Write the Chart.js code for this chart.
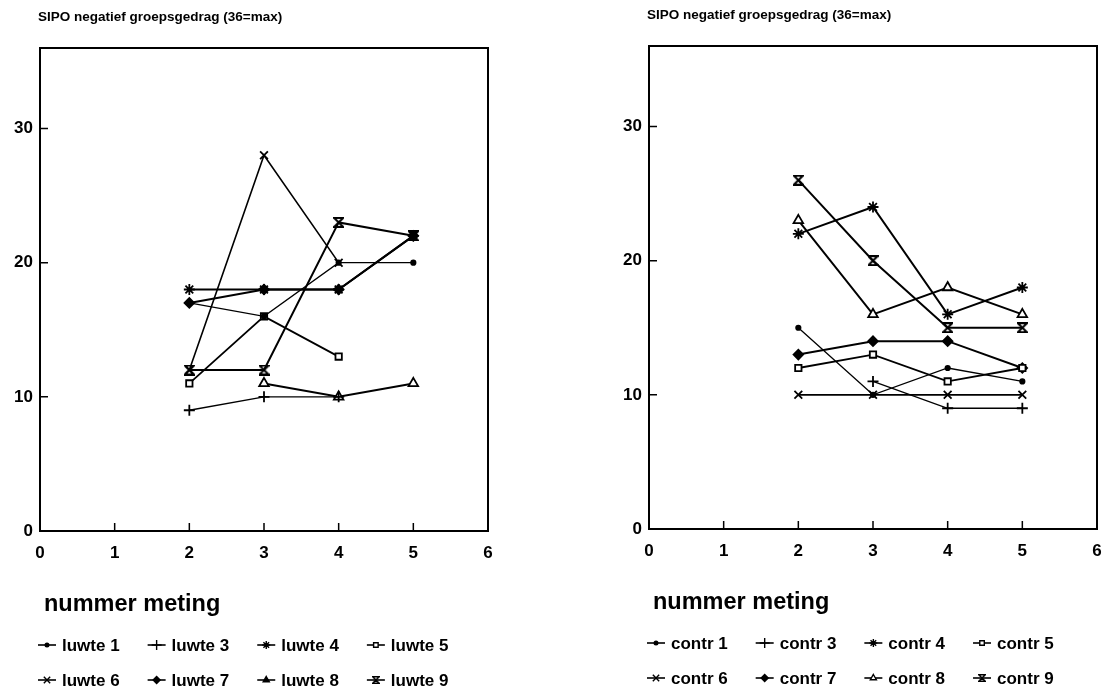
<!DOCTYPE html>
<html>
<head>
<meta charset="utf-8">
<script src="https://cdn.jsdelivr.net/npm/chart.js@4/dist/chart.umd.min.js"></script>
<style>
  html, body { margin: 0; padding: 0; background: #fff; overflow: hidden; }
  #wrap { position: relative; width: 1110px; height: 694px; }
  canvas { position: absolute; }
  #links { left: 0; top: 0; }
  #rechts { left: 609px; top: -2px; }
</style>
</head>
<body>
<div id="wrap">
  <canvas id="links" width="501" height="694"></canvas>
  <canvas id="rechts" width="501" height="694"></canvas>
</div>
<script>
// meetmomenten en scores per groep (null = niet gemeten)
var meting = [2, 3, 4, 5];
var yTicks = [0, 10, 20, 30];

var luwteLabels = ["luwte 1", "luwte 3", "luwte 4", "luwte 5", "luwte 6", "luwte 7", "luwte 8", "luwte 9"];
var luwte1 = [17, 16, 20, 20];
var luwte3 = [9, 10, 10, null];
var luwte4 = [18, 18, 18, 22];
var luwte5 = [11, 16, 13, null];
var luwte6 = [12, 28, 20, null];
var luwte7 = [17, 18, 18, 22];
var luwte8 = [null, 11, 10, 11];
var luwte9 = [12, 12, 23, 22];

var contrLabels = ["contr 1", "contr 3", "contr 4", "contr 5", "contr 6", "contr 7", "contr 8", "contr 9"];
var contr1 = [15, 10, 12, 11];
var contr3 = [null, 11, 9, 9];
var contr4 = [22, 24, 16, 18];
var contr5 = [12, 13, 11, 12];
var contr6 = [10, 10, 10, 10];
var contr7 = [13, 14, 14, 12];
var contr8 = [23, 16, 18, 16];
var contr9 = [26, 20, 15, 15];

var FONT = "'Liberation Sans', Arial, Helvetica, sans-serif";

// zandloper-symbool (niet standaard in Chart.js)
function zandloper(size, lw) {
  var c = document.createElement("canvas");
  c.width = size; c.height = size;
  var g = c.getContext("2d");
  g.strokeStyle = "#000";
  g.lineWidth = lw;
  var m = lw / 2;
  g.beginPath();
  g.moveTo(m, m);
  g.lineTo(size - m, m);
  g.lineTo(m, size - m);
  g.lineTo(size - m, size - m);
  g.closePath();
  g.stroke();
  return c;
}

// symbolen per reeks, zelfde volgorde voor beide groepen
var stijlen = [
  { pointStyle: "circle", radius: 2.2, fill: "#000", lw: 1.3, legendRadius: 1.8 },
  { pointStyle: "cross", radius: 5.5, fill: "#fff", lw: 1.3, legendRadius: 5 },
  { pointStyle: "star", radius: 5.5, fill: "#fff", lw: 2, legendRadius: 4 },
  { pointStyle: "rect", radius: 4.5, fill: "#fff", lw: 1.8, legendRadius: 3.2 },
  { pointStyle: "crossRot", radius: 5.5, fill: "#fff", lw: 1.6, legendRadius: 4.5 },
  { pointStyle: "rectRot", radius: 4.8, fill: "#000", lw: 2, legendRadius: 3.5 },
  { pointStyle: "triangle", radius: 5.5, fill: "#fff", lw: 2, legendRadius: 3.5 },
  { pointStyle: zandloper(11, 2), radius: 5.5, fill: "#fff", lw: 2, legend: zandloper(8, 1.5) }
];

var kader = {
  id: "kader",
  beforeDatasetsDraw: function(chart) {
    var ctx = chart.ctx, a = chart.chartArea;
    var xs = chart.scales.x, ys = chart.scales.y;
    ctx.save();
    ctx.strokeStyle = "#000";
    ctx.lineWidth = 2;
    ctx.strokeRect(a.left, a.top, a.right - a.left, a.bottom - a.top);
    ctx.lineWidth = 1.5;
    ctx.beginPath();
    xs.ticks.forEach(function(t) {
      if (t.value <= xs.min || t.value >= xs.max) return;
      var px = xs.getPixelForValue(t.value);
      ctx.moveTo(px, a.bottom);
      ctx.lineTo(px, a.bottom - 8);
    });
    ys.ticks.forEach(function(t) {
      if (t.value <= ys.min) return;
      var py = ys.getPixelForValue(t.value);
      ctx.moveTo(a.left, py);
      ctx.lineTo(a.left + 8, py);
    });
    ctx.stroke();
    ctx.restore();
  },
  afterDraw: function(chart, args, opts) {
    var ctx = chart.ctx, a = chart.chartArea;
    ctx.save();
    ctx.fillStyle = "#000";
    ctx.textBaseline = "middle";
    ctx.textAlign = "left";
    ctx.font = "bold 13.5px " + FONT;
    ctx.fillText(opts.titel, a.left - 2, a.top - 31);
    ctx.font = "bold 23.5px " + FONT;
    ctx.fillText(opts.asTitel, a.left + 4, a.bottom + 74);

    // legenda: twee rijen van vier
    ctx.font = "bold 17px " + FONT;
    var x = 0;
    chart.data.datasets.forEach(function(ds, i) {
      var rij = Math.floor(i / 4);
      if (i % 4 === 0) x = a.left - 2;
      var y = a.bottom + 114 + rij * 35;
      var st = stijlen[i];
      ctx.strokeStyle = "#000";
      ctx.lineWidth = 1.6;
      ctx.beginPath();
      ctx.moveTo(x, y);
      ctx.lineTo(x + 18, y);
      ctx.stroke();
      ctx.fillStyle = ds.legendFill || st.fill;
      ctx.lineWidth = 1.4;
      Chart.helpers.drawPoint(ctx, {
        pointStyle: st.legend || st.pointStyle,
        radius: st.legendRadius || 4,
        rotation: 0,
        borderWidth: 1.4
      }, x + 9, y);
      ctx.fillStyle = "#000";
      ctx.fillText(ds.label, x + 24, y + 1);
      x = x + 24 + ctx.measureText(ds.label).width + 28;
    });
    ctx.restore();
  }
};

function maakGrafiek(id, labels, reeksen, titel, legendFill) {
  var datasets = reeksen.map(function(r, i) {
    var st = stijlen[i];
    var punten = [];
    meting.forEach(function(m, j) {
      if (r[j] !== null) punten.push({ x: m, y: r[j] });
    });
    return {
      label: labels[i],
      data: punten,
      borderColor: "#000",
      borderWidth: st.lw,
      pointStyle: st.pointStyle,
      pointRadius: st.radius,
      pointBackgroundColor: st.fill,
      pointBorderColor: "#000",
      pointBorderWidth: 1.8,
      legendFill: legendFill[i],
      tension: 0,
      fill: false
    };
  });

  return new Chart(document.getElementById(id), {
    type: "line",
    data: { datasets: datasets },
    options: {
      responsive: false,
      animation: false,
      layout: { padding: { top: 48, right: 13, left: 0, bottom: 0 } },
      plugins: {
        legend: { display: false },
        tooltip: { enabled: false },
        kader: { titel: titel, asTitel: "nummer meting" }
      },
      scales: {
        x: {
          type: "linear",
          min: 0,
          max: 6,
          ticks: {
            stepSize: 1,
            color: "#000",
            padding: 12,
            font: { family: FONT, size: 17, weight: "bold" }
          },
          grid: { display: false, drawTicks: false },
          border: { display: false },
          afterFit: function(s) {
            s.height = 163;
            s.paddingLeft = 0;
            s.paddingRight = 0;
          }
        },
        y: {
          min: 0,
          max: 36,
          afterBuildTicks: function(s) {
            s.ticks = yTicks.map(function(v) { return { value: v }; });
          },
          ticks: {
            color: "#000",
            padding: 7,
            font: { family: FONT, size: 17, weight: "bold" }
          },
          grid: { display: false, drawTicks: false },
          border: { display: false },
          afterFit: function(s) { s.width = 40; }
        }
      }
    },
    plugins: [kader]
  });
}

var titel = "SIPO negatief groepsgedrag (36=max)";
maakGrafiek("links", luwteLabels,
  [luwte1, luwte3, luwte4, luwte5, luwte6, luwte7, luwte8, luwte9], titel,
  [null, null, null, null, null, null, "#000", null]);
maakGrafiek("rechts", contrLabels,
  [contr1, contr3, contr4, contr5, contr6, contr7, contr8, contr9], titel,
  [null, null, null, null, null, null, null, null]);
</script>
</body>
</html>
